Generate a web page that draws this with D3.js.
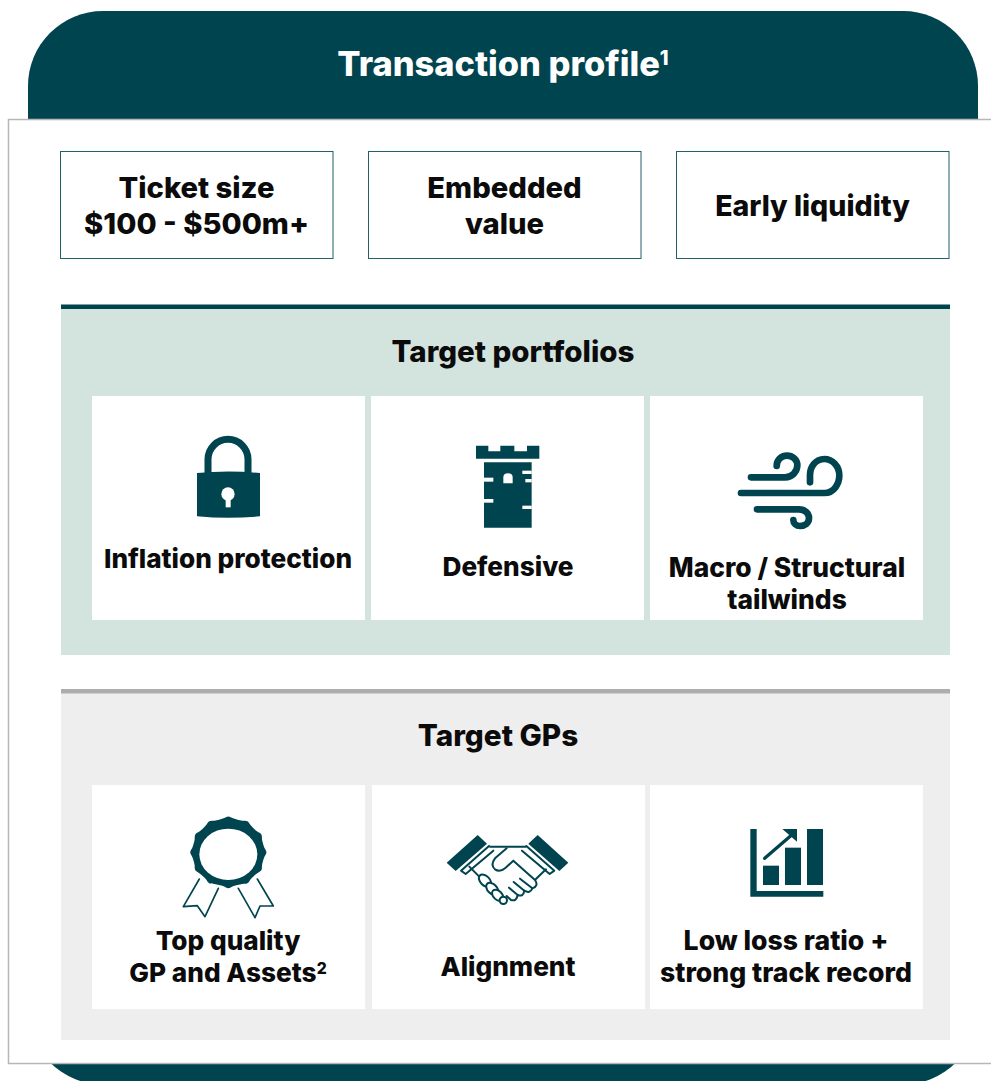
<!DOCTYPE html>
<html><head><meta charset="utf-8">
<script src="https://cdn.jsdelivr.net/npm/d3@7/dist/d3.min.js"></script>
<style>html,body{margin:0;padding:0;background:#fff}svg{display:block}text{font-family:Inter,sans-serif;font-weight:800;fill:#0b0b0b}</style>
</head><body><script>
const titleText = "Transaction profile";
const titleNote = "1";
const chipLabels = [["Ticket size","$100 - $500m+"],["Embedded","value"],["Early liquidity"]];
const portfolioHeading = "Target portfolios";
const portfolioLabels = [["Inflation protection"],["Defensive"],["Macro / Structural","tailwinds"]];
const gpHeading = "Target GPs";
const gpLabels = [["Top quality","GP and Assets"],["Alignment"],["Low loss ratio +","strong track record"]];
const gpNotes = [["","2"],[""],["",""]];

const DARK="#00444f", W=991, H=1081;
const svg=d3.select("body").append("svg").attr("width",W).attr("height",H);
const rect=(x,y,w,h,f,extra={})=>{const r=svg.append("rect").attr("x",x).attr("y",y).attr("width",w).attr("height",h).attr("fill",f);
  Object.entries(extra).forEach(([k,v])=>r.attr(k,v));return r;};
function lines(g,arr,cx,first,step,size,notes){
  arr.forEach((t,i)=>{
    const tx=g.append("text").attr("x",cx).attr("y",first+i*step).attr("text-anchor","middle").attr("font-size",size).text(t);
    if(notes&&notes[i]) tx.append("tspan").attr("font-size",size*0.6).attr("dy",-size*0.3).text(notes[i]);
  });
}
// backdrop
rect(28,11,950,1073.5,DARK,{rx:75,ry:75});
rect(8.5,119.5,990,944,"#fff",{stroke:"#b7b7b7","stroke-width":1.5});
// title
const tt=svg.append("text").attr("x",503).attr("y",76).attr("text-anchor","middle").attr("font-size",34.4).style("fill","#fff").text(titleText);
tt.append("tspan").attr("font-size",20).attr("dy",-11).style("fill","#fff").text(titleNote);
// chips
const chipX=d3.scalePoint().domain(d3.range(3)).range([60.5,676.5]);
chipLabels.forEach((c,i)=>{
  rect(chipX(i),151.5,272.5,107,"#fff",{stroke:"#23606a","stroke-width":1});
  lines(svg,c,chipX(i)+136,c.length>1?198:216,36,i===2?28.5:29.2);
});
// panels
rect(61,305,889,350,"#d3e4de"); rect(61,304.5,889,4.5,DARK);
rect(61,689,889,351,"#eeeeee"); rect(61,689,889,4.5,"#adadad");
lines(svg,[portfolioHeading],513,362,0,29.5);
lines(svg,[gpHeading],498,746,0,29.7);
const cardXA=[92,371,650], cardXB=[92,372,650];
cardXA.forEach(x=>rect(x,396,273,224,"#fff"));
cardXB.forEach(x=>rect(x,785,273,224,"#fff"));
lines(svg,portfolioLabels[0],228,568,32,26.2);
lines(svg,portfolioLabels[1],508,576,32,26.2);
lines(svg,portfolioLabels[2],787,577,32,26.4);
lines(svg,gpLabels[0],228,950,32,26.2,gpNotes[0]);
lines(svg,gpLabels[1],508,976,32,26.2);
lines(svg,gpLabels[2],786,950,32,26.6);

// icons, drawn at 3x units like the zoomed view
const icon=(x,y)=>svg.append("g").attr("transform",`translate(${x},${y}) scale(${1/3})`);
const fillP=(g,d,f=DARK)=>g.append("path").attr("d",d).attr("fill",f);
const strokeP=(g,d,w)=>g.append("path").attr("d",d).attr("fill","none").attr("stroke",DARK).attr("stroke-width",w).attr("stroke-linecap","round").attr("stroke-linejoin","round");
// lock
let g=icon(170,420);
g.append("path").attr("d","M114,165 V118 A60,60 0 0 1 234,118 V165").attr("fill","none").attr("stroke",DARK).attr("stroke-width",21);
fillP(g,"M81,159 Q175,150 270,159 V289 Q175,298 81,289Z");
g.append("circle").attr("cx",174).attr("cy",222).attr("r",20).attr("fill","#fff");
g.append("rect").attr("x",167).attr("y",225).attr("width",15).attr("height",37).attr("fill","#fff");
// tower
g=icon(450,430);
fillP(g,"M78,47 H115 V64 H151 V47 H193 V64 H231 V47 H268 V86 H78Z");
fillP(g,"M102,97 H245 V293 H102Z");
fillP(g,"M160,160 V142 Q160,130 174,130 Q188,130 188,142 V160Z","#fff");
[[102,143,28,12],[102,207,28,11],[217,122,28,10],[226,147,19,10],[217,227,28,10]].forEach(b=>g.append("rect").attr("x",b[0]).attr("y",b[1]).attr("width",b[2]).attr("height",b[3]).attr("fill","#fff"));
// wind
g=icon(725,440);
strokeP(g,"M48,159 H298 C328,159 343,130 343,106 C343,78 322,57 298,57 C272,57 255,80 255,105 V127",20);
strokeP(g,"M78,112 H180 C202,112 217,94 217,76 C217,58 202,47 186,47 C168,47 155,60 155,78",20);
strokeP(g,"M96,208 H222 C240,208 252,220 252,234 C252,250 238,258 225,258 C214,258 205,250 205,240",20);
// rosette
g=icon(170,805);
strokeP(g,"M88,222 L40,305 L82,302 L105,335 L145,250",5);
strokeP(g,"M262,222 L310,303 L270,303 L255,338 L205,250",5);
const scallop=d3.lineRadial().curve(d3.curveBasisClosed)
  .angle(d=>d/48*2*Math.PI).radius(d=>d%4===0?118:108);
g.append("path").attr("transform","translate(175,142) scale(1,0.94)").attr("d",scallop(d3.range(48))).attr("fill",DARK);
g.append("ellipse").attr("cx",175).attr("cy",148).attr("rx",87).attr("ry",77).attr("fill","#fff");
// handshake
g=icon(435,820);
fillP(g,"M128,45 L156,71 L62,153 L35,128Z");
fillP(g,"M308,45 L280,71 L373,153 L400,128Z");
strokeP(g,"M162,78 L78,152 L92,162 L175,92",6);
strokeP(g,"M274,78 L358,152 L344,162 L261,92",6);
strokeP(g,"M165,80 H272",6);
strokeP(g,"M103,140 L135,172",6);
strokeP(g,"M333,148 L302,178",6);
strokeP(g,"M215,85 L180,115 Q165,135 180,148 Q195,158 212,143 L235,122 L300,180 Q312,198 292,205",6);
strokeP(g,"M255,176 L292,205 Q285,222 268,212 L236,186",6);
strokeP(g,"M268,212 Q265,232 248,225 L222,203",6);
strokeP(g,"M248,225 Q245,245 228,240 L215,228",6);
[[150,182,22,14],[172,207,22,14],[188,226,20,13]].forEach(e=>g.append("ellipse").attr("cx",e[0]).attr("cy",e[1]).attr("rx",e[2]).attr("ry",e[3]).attr("transform",`rotate(45 ${e[0]} ${e[1]})`).attr("fill","#fff").attr("stroke",DARK).attr("stroke-width",6));
g.append("circle").attr("cx",205).attr("cy",241).attr("r",11).attr("fill","#fff").attr("stroke",DARK).attr("stroke-width",6);
// growth chart
g=icon(735,815);
fillP(g,"M46,42 H65 V228 H265 V245 H46Z");
[[84,152,48,58],[150,98,48,112],[216,42,48,168]].forEach(b=>g.append("rect").attr("x",b[0]).attr("y",b[1]).attr("width",b[2]).attr("height",b[3]).attr("fill",DARK));
strokeP(g,"M89,130 L170,60",10);
fillP(g,"M142,42 H186 V80Z");
</script></body></html>
